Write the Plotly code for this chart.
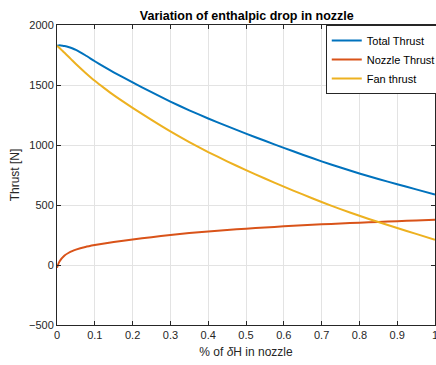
import plotly.graph_objects as go

# Fraction of enthalpy drop in nozzle
x_frac = [0, 0.005, 0.01, 0.015, 0.02, 0.03, 0.04, 0.05, 0.075, 0.1, 0.125, 0.15, 0.2, 0.25,
          0.3, 0.35, 0.4, 0.45, 0.5, 0.55, 0.6, 0.65, 0.7, 0.75, 0.8, 0.85, 0.9, 0.95, 1.0]

total_thrust = [1828, 1830, 1830, 1828, 1825, 1817, 1806, 1793, 1748, 1698, 1651, 1606, 1522, 1440,
                1362, 1289, 1221, 1157, 1095, 1035, 976, 919, 864, 812, 763, 717, 673, 630, 587]

nozzle_thrust = [-22, 20, 45, 64, 80, 100, 116, 128, 150, 166, 180, 192, 213, 232,
                 250, 266, 280, 292, 303, 313, 322, 331, 339, 346, 353, 359, 365, 371, 377]

fan_thrust = [1828, 1813, 1798, 1783, 1768, 1738, 1706, 1675, 1603, 1535, 1474, 1416, 1310, 1209,
              1113, 1024, 941, 864, 791, 721, 653, 588, 525, 466, 410, 358, 308, 259, 210]

x_ticks = [0, 0.1, 0.2, 0.3, 0.4, 0.5, 0.6, 0.7, 0.8, 0.9, 1.0]
x_ticklabels = ["0", "0.1", "0.2", "0.3", "0.4", "0.5", "0.6", "0.7", "0.8", "0.9", "1"]
y_ticks = [-500, 0, 500, 1000, 1500, 2000]

FONT = "Liberation Sans, Arial, sans-serif"
AX = "#262626"
GRID = "#e3e3e3"

fig = go.Figure()
fig.add_trace(go.Scatter(x=x_frac, y=total_thrust, mode="lines", name="Total Thrust",
                         line=dict(color="#0072BD", width=2, shape="spline", smoothing=0.5)))
fig.add_trace(go.Scatter(x=x_frac, y=nozzle_thrust, mode="lines", name="Nozzle Thrust",
                         line=dict(color="#D95319", width=2, shape="spline", smoothing=0.5)))
fig.add_trace(go.Scatter(x=x_frac, y=fan_thrust, mode="lines", name="Fan thrust",
                         line=dict(color="#EDB120", width=2, shape="spline", smoothing=0.5)))

fig.update_layout(
    width=436, height=365,
    margin=dict(l=57, r=1, t=25, b=40, autoexpand=False),
    paper_bgcolor="white", plot_bgcolor="white",
    font=dict(family=FONT, size=11, color=AX),
    title=dict(text="<b>Variation of enthalpic drop in nozzle</b>", x=0.566, xanchor="center",
               y=0.958, yanchor="middle", font=dict(family=FONT, size=12.5, color="black")),
    legend=dict(x=0.711, xanchor="left", y=1.0, yanchor="top", bgcolor="white",
                bordercolor=AX, borderwidth=1, font=dict(family=FONT, size=11, color="black"),
                tracegroupgap=0),
    showlegend=True,
)
fig.update_xaxes(range=[0, 1], tickvals=x_ticks, ticktext=x_ticklabels, automargin=False,
                 ticklabeloverflow="allow",
                 showgrid=True, gridcolor=GRID, gridwidth=1,
                 showline=True, linecolor=AX, linewidth=1, mirror="allticks",
                 ticks="inside", ticklen=4, tickcolor=AX, zeroline=False,
                 tickfont=dict(family=FONT, size=11, color=AX),
                 title=dict(text="% of <i>δ</i>H in nozzle", standoff=7,
                            font=dict(family=FONT, size=12, color=AX)))
fig.update_yaxes(range=[-500, 2000], tickvals=y_ticks, automargin=False,
                 showgrid=True, gridcolor=GRID, gridwidth=1,
                 showline=True, linecolor=AX, linewidth=1, mirror="allticks",
                 ticks="inside", ticklen=4, tickcolor=AX, zeroline=False,
                 tickfont=dict(family=FONT, size=11, color=AX),
                 title=dict(text="Thrust [N]", standoff=6,
                            font=dict(family=FONT, size=12, color=AX)))

fig.write_html("out.html")
